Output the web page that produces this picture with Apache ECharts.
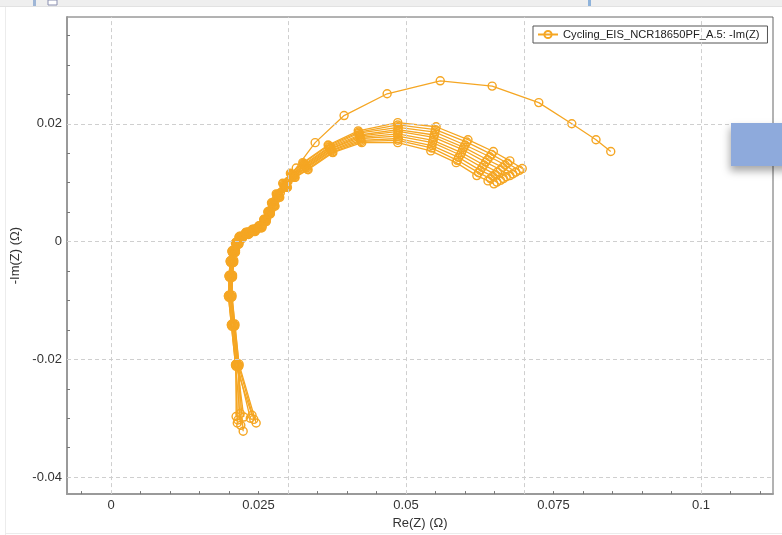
<!DOCTYPE html>
<html>
<head>
<meta charset="utf-8">
<script src="https://cdn.jsdelivr.net/npm/echarts@6/dist/echarts.min.js"></script>
<style>
html, body { margin: 0; padding: 0; background: #ffffff; }
#chart { width: 782px; height: 535px; }
</style>
</head>
<body>
<div id="chart"></div>
<script>
// Nyquist plot of repeated EIS sweeps: Re(Z) vs -Im(Z), both in ohms.
const seriesName = 'Cycling_EIS_NCR18650PF_A.5: -Im(Z)';

const xLabelValues = [0, 0.025, 0.05, 0.075, 0.1];
const yLabelValues = [-0.04, -0.02, 0, 0.02];
const xTickValues = [-0.005, 0, 0.005, 0.01, 0.015, 0.02, 0.025, 0.03, 0.035, 0.04, 0.045, 0.05,
  0.055, 0.06, 0.065, 0.07, 0.075, 0.08, 0.085, 0.09, 0.095, 0.1, 0.105, 0.11];
const yTickValues = [-0.04, -0.035, -0.03, -0.025, -0.02, -0.015, -0.01, -0.005, 0,
  0.005, 0.01, 0.015, 0.02, 0.025, 0.03, 0.035];

// Sweep with the widest arc
const sweep00 = [[0.0224,-0.0322],[0.0215,-0.0210],[0.0208,-0.0142],[0.0203,-0.0093],[0.0204,-0.0058],
  [0.0206,-0.0033],[0.0209,-0.0016],[0.0215,-0.0002],[0.0221,0.0008],[0.0232,0.0016],[0.0244,0.0021],
  [0.0256,0.0028],[0.0264,0.0040],[0.0271,0.0054],[0.0278,0.0069],[0.0287,0.0083],[0.0300,0.0102],
  [0.0314,0.0125],[0.0346,0.0168],[0.0395,0.0214],[0.0468,0.0251],[0.0558,0.0273],[0.0646,0.0264],
  [0.0725,0.0236],[0.0781,0.0200],[0.0822,0.0173],[0.0847,0.0153]];

const sweep01 = [[0.0246,-0.0308],[0.0217,-0.0208],[0.0210,-0.0140],[0.0205,-0.0091],[0.0206,-0.0057],
  [0.0208,-0.0032],[0.0211,-0.0015],[0.0217,-0.0001],[0.0223,0.0009],[0.0234,0.0016],[0.0245,0.0021],
  [0.0256,0.0027],[0.0259,0.0038],[0.0266,0.0051],[0.0272,0.0066],[0.0280,0.0081],[0.0291,0.0099],
  [0.0304,0.0116],[0.0325,0.0134],[0.0368,0.0164],[0.0419,0.0188],[0.0486,0.0202],[0.0551,0.0195],
  [0.0605,0.0173],[0.0648,0.0153],[0.0676,0.0137],[0.0697,0.0124]];

const sweep02 = [[0.0242,-0.0302],[0.0216,-0.0210],[0.0209,-0.0142],[0.0204,-0.0093],[0.0205,-0.0059],
  [0.0207,-0.0034],[0.0210,-0.0017],[0.0216,-0.0003],[0.0222,0.0007],[0.0233,0.0014],[0.0244,0.0019],
  [0.0255,0.0025],[0.0259,0.0037],[0.0266,0.0050],[0.0273,0.0065],[0.0281,0.0080],[0.0292,0.0098],
  [0.0305,0.0115],[0.0326,0.0133],[0.0369,0.0163],[0.0420,0.0186],[0.0486,0.0198],[0.0550,0.0190],
  [0.0603,0.0169],[0.0645,0.0148],[0.0672,0.0133],[0.0692,0.0121]];

const sweep03 = [[0.0239,-0.0295],[0.0212,-0.0212],[0.0205,-0.0144],[0.0200,-0.0095],[0.0201,-0.0061],
  [0.0203,-0.0036],[0.0206,-0.0019],[0.0212,-0.0005],[0.0218,0.0005],[0.0229,0.0012],[0.0240,0.0017],
  [0.0251,0.0023],[0.0260,0.0037],[0.0267,0.0050],[0.0273,0.0064],[0.0281,0.0079],[0.0293,0.0097],
  [0.0306,0.0114],[0.0327,0.0131],[0.0370,0.0161],[0.0420,0.0184],[0.0487,0.0194],[0.0549,0.0186],
  [0.0600,0.0164],[0.0642,0.0144],[0.0668,0.0130],[0.0686,0.0118]];

const sweep04 = [[0.0236,-0.0300],[0.0214,-0.0208],[0.0207,-0.0140],[0.0202,-0.0091],[0.0203,-0.0057],
  [0.0205,-0.0032],[0.0208,-0.0015],[0.0214,-0.0001],[0.0220,0.0009],[0.0231,0.0016],[0.0242,0.0021],
  [0.0253,0.0027],[0.0260,0.0037],[0.0267,0.0050],[0.0274,0.0064],[0.0282,0.0079],[0.0294,0.0096],
  [0.0307,0.0113],[0.0328,0.0130],[0.0371,0.0160],[0.0421,0.0181],[0.0486,0.0190],[0.0548,0.0181],
  [0.0598,0.0160],[0.0638,0.0139],[0.0664,0.0126],[0.0681,0.0115]];

const sweep05 = [[0.0220,-0.0312],[0.0211,-0.0210],[0.0204,-0.0142],[0.0199,-0.0093],[0.0200,-0.0059],
  [0.0202,-0.0034],[0.0205,-0.0017],[0.0211,-0.0003],[0.0217,0.0007],[0.0228,0.0014],[0.0239,0.0019],
  [0.0250,0.0025],[0.0261,0.0036],[0.0268,0.0049],[0.0275,0.0063],[0.0283,0.0078],[0.0295,0.0095],
  [0.0308,0.0112],[0.0329,0.0129],[0.0372,0.0158],[0.0421,0.0179],[0.0487,0.0187],[0.0547,0.0177],
  [0.0596,0.0156],[0.0635,0.0135],[0.0660,0.0122],[0.0676,0.0112]];

const sweep06 = [[0.0215,-0.0303],[0.0216,-0.0212],[0.0209,-0.0144],[0.0204,-0.0095],[0.0205,-0.0061],
  [0.0207,-0.0036],[0.0210,-0.0019],[0.0216,-0.0005],[0.0222,0.0005],[0.0233,0.0012],[0.0244,0.0017],
  [0.0255,0.0023],[0.0261,0.0036],[0.0268,0.0048],[0.0276,0.0062],[0.0284,0.0077],[0.0296,0.0094],
  [0.0309,0.0111],[0.0330,0.0127],[0.0372,0.0157],[0.0422,0.0177],[0.0486,0.0183],[0.0546,0.0172],
  [0.0594,0.0151],[0.0632,0.0130],[0.0655,0.0118],[0.0670,0.0110]];

const sweep07 = [[0.0212,-0.0297],[0.0212,-0.0208],[0.0205,-0.0140],[0.0200,-0.0091],[0.0201,-0.0057],
  [0.0203,-0.0032],[0.0206,-0.0015],[0.0212,-0.0001],[0.0218,0.0009],[0.0229,0.0016],[0.0240,0.0021],
  [0.0251,0.0027],[0.0262,0.0035],[0.0269,0.0048],[0.0276,0.0062],[0.0284,0.0077],[0.0296,0.0094],
  [0.0309,0.0111],[0.0331,0.0126],[0.0373,0.0155],[0.0423,0.0175],[0.0486,0.0179],[0.0545,0.0168],
  [0.0592,0.0147],[0.0629,0.0126],[0.0651,0.0114],[0.0665,0.0107]];

const sweep08 = [[0.0219,-0.0292],[0.0217,-0.0211],[0.0210,-0.0143],[0.0205,-0.0094],[0.0206,-0.0060],
  [0.0208,-0.0035],[0.0211,-0.0018],[0.0217,-0.0004],[0.0223,0.0006],[0.0234,0.0013],[0.0245,0.0018],
  [0.0256,0.0024],[0.0262,0.0035],[0.0269,0.0048],[0.0277,0.0062],[0.0285,0.0077],[0.0297,0.0093],
  [0.0310,0.0110],[0.0332,0.0125],[0.0374,0.0154],[0.0423,0.0172],[0.0487,0.0175],[0.0544,0.0163],
  [0.0589,0.0143],[0.0626,0.0121],[0.0647,0.0111],[0.0660,0.0104]];

const sweep09 = [[0.0225,-0.0298],[0.0214,-0.0211],[0.0207,-0.0143],[0.0202,-0.0094],[0.0203,-0.0060],
  [0.0205,-0.0035],[0.0208,-0.0018],[0.0214,-0.0004],[0.0220,0.0006],[0.0231,0.0013],[0.0242,0.0018],
  [0.0253,0.0024],[0.0263,0.0035],[0.0270,0.0048],[0.0277,0.0061],[0.0285,0.0076],[0.0298,0.0092],
  [0.0311,0.0109],[0.0333,0.0123],[0.0375,0.0152],[0.0424,0.0170],[0.0486,0.0172],[0.0543,0.0159],
  [0.0587,0.0138],[0.0623,0.0117],[0.0643,0.0107],[0.0654,0.0101]];

const sweep10 = [[0.0214,-0.0308],[0.0211,-0.0209],[0.0204,-0.0141],[0.0199,-0.0092],[0.0200,-0.0058],
  [0.0202,-0.0033],[0.0205,-0.0016],[0.0211,-0.0002],[0.0217,0.0008],[0.0228,0.0015],[0.0239,0.0020],
  [0.0250,0.0026],[0.0263,0.0034],[0.0270,0.0047],[0.0278,0.0060],[0.0286,0.0075],[0.0299,0.0092],
  [0.0312,0.0109],[0.0334,0.0122],[0.0376,0.0151],[0.0425,0.0168],[0.0486,0.0168],[0.0542,0.0154],
  [0.0585,0.0134],[0.0620,0.0112],[0.0639,0.0103],[0.0649,0.0098]];

const sweeps = [sweep00, sweep01, sweep02, sweep03, sweep04, sweep05,
  sweep06, sweep07, sweep08, sweep09, sweep10];

const lineColor = '#F5A623';
const fontFamily = '"Liberation Sans", Arial, sans-serif';

const chart = echarts.init(document.getElementById('chart'), null, { renderer: 'canvas' });

// dashed guide lines at the labelled values
const gridGuides = {
  type: 'line',
  name: 'guides',
  data: [],
  z: 1,
  silent: true,
  markLine: {
    silent: true,
    symbol: ['none', 'none'],
    label: { show: false },
    emphasis: { disabled: true },
    animation: false,
    lineStyle: { color: '#cfcfcf', width: 1, type: [4, 3] },
    data: xLabelValues.map(v => ({ xAxis: v })).concat(yLabelValues.map(v => ({ yAxis: v })))
  }
};

// hollow markers with see-through centres so overlapping sweeps blend
const sweepSeries = sweeps.map(d => ({
  type: 'line',
  name: seriesName,
  data: d,
  z: 3,
  symbol: 'circle',
  symbolSize: 8,
  showSymbol: true,
  showAllSymbol: true,
  lineStyle: { color: lineColor, width: 1.3 },
  itemStyle: { color: 'rgba(255,255,255,0)', borderColor: lineColor, borderWidth: 1.4 },
  emphasis: { disabled: true },
  animation: false
}));

chart.setOption({
  animation: false,
  backgroundColor: '#ffffff',
  textStyle: { fontFamily: fontFamily },
  grid: {
    left: 67, right: 9, top: 17, bottom: 40,
    show: true, borderColor: '#666666', borderWidth: 1, backgroundColor: 'transparent'
  },
  legend: {
    data: [seriesName],
    left: 533, top: 26,
    orient: 'horizontal',
    selectedMode: false,
    backgroundColor: '#ffffff',
    borderColor: '#555555',
    borderWidth: 1,
    borderRadius: 0,
    padding: [3, 8, 3, 4],
    itemWidth: 20,
    itemHeight: 9,
    textStyle: { fontSize: 11.2, color: '#222222', fontFamily: fontFamily }
  },
  xAxis: {
    type: 'value',
    min: -0.00746,
    max: 0.1122,
    name: 'Re(Z) (Ω)',
    nameLocation: 'middle',
    nameGap: 21,
    nameTextStyle: { fontSize: 13, color: '#333333', fontFamily: fontFamily },
    axisLine: { show: true, onZero: false, lineStyle: { color: '#9a9a9a', width: 2 } },
    axisTick: { show: true, inside: true, length: 3, customValues: xTickValues,
      lineStyle: { color: '#777777', width: 1 } },
    axisLabel: { customValues: xLabelValues, color: '#333333', fontSize: 13, margin: 5,
      fontFamily: fontFamily },
    splitLine: { show: false },
    minorTick: { show: false }
  },
  yAxis: {
    type: 'value',
    min: -0.042881,
    max: 0.038136,
    name: '-Im(Z) (Ω)',
    nameLocation: 'middle',
    nameGap: 41,
    nameTextStyle: { fontSize: 13, color: '#333333', fontFamily: fontFamily },
    axisLine: { show: true, onZero: false, lineStyle: { color: '#9a9a9a', width: 2 } },
    axisTick: { show: true, inside: true, length: 3, customValues: yTickValues,
      lineStyle: { color: '#777777', width: 1 } },
    axisLabel: { customValues: yLabelValues, color: '#333333', fontSize: 13, margin: 5,
      fontFamily: fontFamily },
    splitLine: { show: false },
    minorTick: { show: false }
  },
  graphic: [
    // window toolbar strip along the top edge
    { type: 'rect', z: 50, silent: true, shape: { x: 0, y: 0, width: 782, height: 6 },
      style: { fill: '#efefef' } },
    { type: 'rect', z: 50, silent: true, shape: { x: 0, y: 6, width: 782, height: 1 },
      style: { fill: '#e2e2e2' } },
    { type: 'rect', z: 51, silent: true, shape: { x: 33, y: 0, width: 3, height: 6 },
      style: { fill: '#9fb6d6' } },
    { type: 'rect', z: 51, silent: true, shape: { x: 48, y: 0, width: 9, height: 5 },
      style: { fill: '#ffffff', stroke: '#8a8fb0', lineWidth: 1 } },
    { type: 'rect', z: 51, silent: true, shape: { x: 588, y: 0, width: 3, height: 6 },
      style: { fill: '#8fb3db' } },
    // panel edges
    { type: 'rect', z: 50, silent: true, shape: { x: 5, y: 7, width: 1, height: 528 },
      style: { fill: '#ececec' } },
    { type: 'rect', z: 50, silent: true, shape: { x: 5, y: 533, width: 777, height: 1 },
      style: { fill: '#ececec' } },
    // floating blue panel on the right edge
    { type: 'rect', z: 60, silent: true, shape: { x: 731, y: 123, width: 60, height: 43 },
      style: { fill: '#8eaadc', shadowBlur: 8, shadowOffsetX: -1, shadowOffsetY: 5,
        shadowColor: 'rgba(0,0,0,0.35)' } }
  ],
  series: [gridGuides].concat(sweepSeries)
});
</script>
</body>
</html>
